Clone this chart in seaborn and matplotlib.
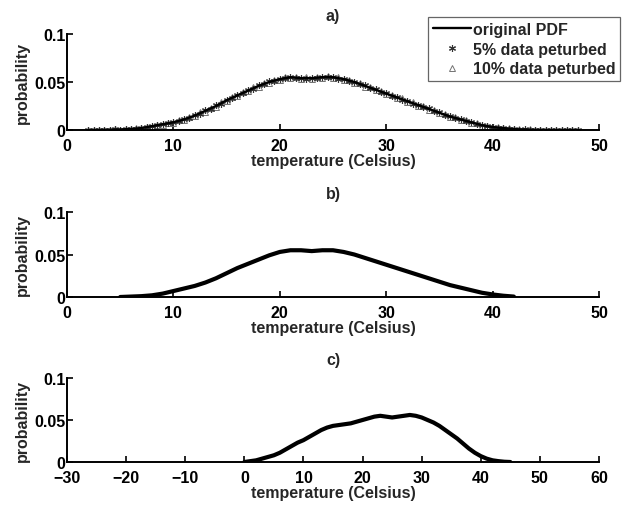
import numpy as np
import pandas as pd
import matplotlib
matplotlib.use("Agg")
import matplotlib.pyplot as plt
import seaborn as sns

# ---------------- data ----------------
temp_a = np.arange(2.0, 48.5, 0.5)
pdf_original = [
    0, 0, 0.0001, 0.0002, 0.0003, 0.0004, 0.0006, 0.0008, 0.0010, 0.0015,
    0.0020, 0.0030, 0.0040, 0.0050, 0.0060, 0.0070, 0.0080, 0.0095, 0.0110, 0.0130,
    0.0150, 0.0175, 0.0200, 0.0225, 0.0250, 0.0280, 0.0310, 0.0335, 0.0360, 0.0385,
    0.0410, 0.0435, 0.0460, 0.0480, 0.0500, 0.0515, 0.0530, 0.0540, 0.0550, 0.0545,
    0.0540, 0.0540, 0.0540, 0.0545, 0.0550, 0.0552, 0.0550, 0.0540, 0.0530, 0.0515,
    0.0500, 0.0480, 0.0460, 0.0440, 0.0420, 0.0400, 0.0380, 0.0360, 0.0340, 0.0320,
    0.0300, 0.0280, 0.0260, 0.0240, 0.0220, 0.0200, 0.0180, 0.0160, 0.0140, 0.0125,
    0.0110, 0.0095, 0.0080, 0.0065, 0.0050, 0.0040, 0.0030, 0.0025, 0.0020, 0.0015,
    0.0010, 0.0007, 0.0005, 0.0003, 0.0002, 0.0001, 0, 0, 0, 0,
    0, 0, 0]
pdf_5pct = [
    0.0002, 0.0001, 0.0003, 0.0001, 0.0004, 0.0006, 0.0005, 0.0010, 0.0012, 0.0014,
    0.0023, 0.0028, 0.0042, 0.0048, 0.0063, 0.0068, 0.0083, 0.0093, 0.0114, 0.0127,
    0.0154, 0.0171, 0.0205, 0.0221, 0.0256, 0.0276, 0.0315, 0.0331, 0.0366, 0.0381,
    0.0415, 0.0431, 0.0466, 0.0476, 0.0506, 0.0511, 0.0536, 0.0537, 0.0556, 0.0541,
    0.0546, 0.0536, 0.0545, 0.0541, 0.0556, 0.0548, 0.0555, 0.0536, 0.0535, 0.0511,
    0.0505, 0.0476, 0.0465, 0.0436, 0.0425, 0.0396, 0.0385, 0.0356, 0.0345, 0.0316,
    0.0305, 0.0276, 0.0265, 0.0236, 0.0225, 0.0196, 0.0184, 0.0157, 0.0144, 0.0121,
    0.0113, 0.0092, 0.0083, 0.0062, 0.0053, 0.0037, 0.0033, 0.0022, 0.0023, 0.0012,
    0.0013, 0.0005, 0.0007, 0.0002, 0.0004, 0.0001, 0.0002, 0.0001, 0.0002, 0.0001,
    0.0002, 0.0001, 0.0002]
pdf_10pct = [
    0.0004, 0.0002, 0.0001, 0.0005, 0.0002, 0.0008, 0.0004, 0.0012, 0.0008, 0.0019,
    0.0016, 0.0035, 0.0036, 0.0056, 0.0055, 0.0077, 0.0075, 0.0101, 0.0104, 0.0137,
    0.0143, 0.0183, 0.0192, 0.0233, 0.0243, 0.0289, 0.0302, 0.0344, 0.0352, 0.0394,
    0.0402, 0.0444, 0.0452, 0.0489, 0.0492, 0.0524, 0.0522, 0.0549, 0.0542, 0.0555,
    0.0532, 0.0549, 0.0532, 0.0554, 0.0542, 0.0561, 0.0542, 0.0549, 0.0522, 0.0524,
    0.0492, 0.0489, 0.0452, 0.0449, 0.0412, 0.0409, 0.0372, 0.0369, 0.0332, 0.0329,
    0.0292, 0.0289, 0.0252, 0.0249, 0.0212, 0.0209, 0.0172, 0.0169, 0.0133, 0.0132,
    0.0104, 0.0102, 0.0074, 0.0072, 0.0045, 0.0046, 0.0025, 0.0031, 0.0016, 0.0020,
    0.0006, 0.0011, 0.0002, 0.0006, 0.0001, 0.0004, 0.0002, 0.0003, 0.0001, 0.0003,
    0.0001, 0.0003, 0.0002]

temp_b = np.arange(5, 43, 1)
pdf_b = [0, 0.0005, 0.001, 0.002, 0.004, 0.007, 0.010, 0.013, 0.017, 0.022,
         0.028, 0.034, 0.039, 0.044, 0.049, 0.053, 0.055, 0.055, 0.054, 0.055,
         0.055, 0.053, 0.050, 0.046, 0.042, 0.038, 0.034, 0.030, 0.026, 0.022,
         0.018, 0.014, 0.011, 0.008, 0.005, 0.003, 0.0015, 0.0005]

temp_c = np.arange(0, 46, 1)
pdf_c = [0, 0.001, 0.002, 0.004, 0.006, 0.008, 0.011, 0.015, 0.019, 0.023,
         0.026, 0.030, 0.034, 0.038, 0.041, 0.043, 0.044, 0.045, 0.046, 0.048,
         0.050, 0.052, 0.054, 0.055, 0.054, 0.053, 0.054, 0.055, 0.056, 0.055,
         0.053, 0.050, 0.047, 0.043, 0.038, 0.033, 0.028, 0.022, 0.016, 0.011,
         0.007, 0.004, 0.002, 0.001, 0.0003, 0]

panel_titles = ["a)", "b)", "c)"]
xlabel = "temperature (Celsius)"
ylabel = "probability"
yticks = [0, 0.05, 0.1]
ytick_labels = ["0", "0.05", "0.1"]
xticks_ab = [0, 10, 20, 30, 40, 50]
xticks_c = [-30, -20, -10, 0, 10, 20, 30, 40, 50, 60]

# ---------------- style ----------------
sns.set_theme(style="white")
plt.rcParams["font.family"] = ["Liberation Sans", "DejaVu Sans"]
plt.rcParams["font.weight"] = "bold"
plt.rcParams["axes.labelweight"] = "bold"
plt.rcParams["axes.titleweight"] = "bold"

fig = plt.figure(figsize=(6.22, 5.06), dpi=100)
W, H = 622, 506
left_px, right_px = 67, 599


def rect(top_px, bottom_px):
    return [left_px / W, 1 - bottom_px / H, (right_px - left_px) / W, (bottom_px - top_px) / H]


ax_a = fig.add_axes(rect(35, 131))
ax_b = fig.add_axes(rect(213, 298))
ax_c = fig.add_axes(rect(379, 463))

fs = 11.5

# panel a
sns.lineplot(x=temp_a, y=pdf_10pct, ax=ax_a, linestyle="", marker="^",
             markersize=4, markerfacecolor="none", markeredgecolor="0.45",
             markeredgewidth=0.7, color="0.45", label="10% data peturbed", zorder=2)
sns.lineplot(x=temp_a, y=pdf_5pct, ax=ax_a, linestyle="", marker=(6, 2, 0),
             markersize=5, color="0.2", markeredgecolor="0.2",
             markeredgewidth=0.8, label="5% data peturbed", zorder=2)
sns.lineplot(x=temp_a, y=pdf_original, ax=ax_a, color="black", linewidth=1.7,
             label="original PDF", zorder=3)

# panel b
sns.lineplot(x=temp_b, y=pdf_b, ax=ax_b, color="black", linewidth=3.0, legend=False)
# panel c
sns.lineplot(x=temp_c, y=pdf_c, ax=ax_c, color="black", linewidth=3.0, legend=False)

for ax, title, xt in zip([ax_a, ax_b, ax_c], panel_titles,
                         [xticks_ab, xticks_ab, xticks_c]):
    ax.set_xlim(xt[0], xt[-1])
    ax.set_ylim(0, 0.1)
    ax.set_xticks(xt)
    ax.set_xticklabels([str(v).replace("-", "\u2212") for v in xt], fontsize=fs, fontweight="bold")
    ax.set_yticks(yticks)
    ax.set_yticklabels(ytick_labels, fontsize=fs, fontweight="bold")
    ax.set_xlabel(xlabel, fontsize=fs, fontweight="bold", labelpad=0)
    ax.set_ylabel(ylabel, fontsize=fs, fontweight="bold", labelpad=3)
    ax.set_title(title, fontsize=fs, fontweight="bold", pad=10)
    for s in ["top", "right"]:
        ax.spines[s].set_visible(False)
    for s in ["left", "bottom"]:
        ax.spines[s].set_color("black")
        ax.spines[s].set_linewidth(1.4)
    ax.tick_params(axis="both", direction="in", length=4, width=1.2, colors="black",
                   left=True, bottom=True)
    ax.tick_params(axis="y", pad=1)
    ax.tick_params(axis="x", pad=6)
    ax.set_facecolor("white")

handles, labels = ax_a.get_legend_handles_labels()
order = [labels.index("original PDF"), labels.index("5% data peturbed"),
         labels.index("10% data peturbed")]
leg = ax_a.legend([handles[i] for i in order], [labels[i] for i in order],
                  loc="upper right", bbox_to_anchor=(620 / W, 1 - 18 / H),
                  bbox_transform=fig.transFigure, frameon=True, fancybox=False,
                  framealpha=1, edgecolor="0.4", fontsize=fs, handlelength=2.4,
                  handletextpad=0.1, borderpad=0.3, labelspacing=0.3,
                  borderaxespad=0)
for t in leg.get_texts():
    t.set_fontweight("bold")
leg.get_frame().set_linewidth(0.9)

fig.savefig("out.png", dpi=100, facecolor="white")
